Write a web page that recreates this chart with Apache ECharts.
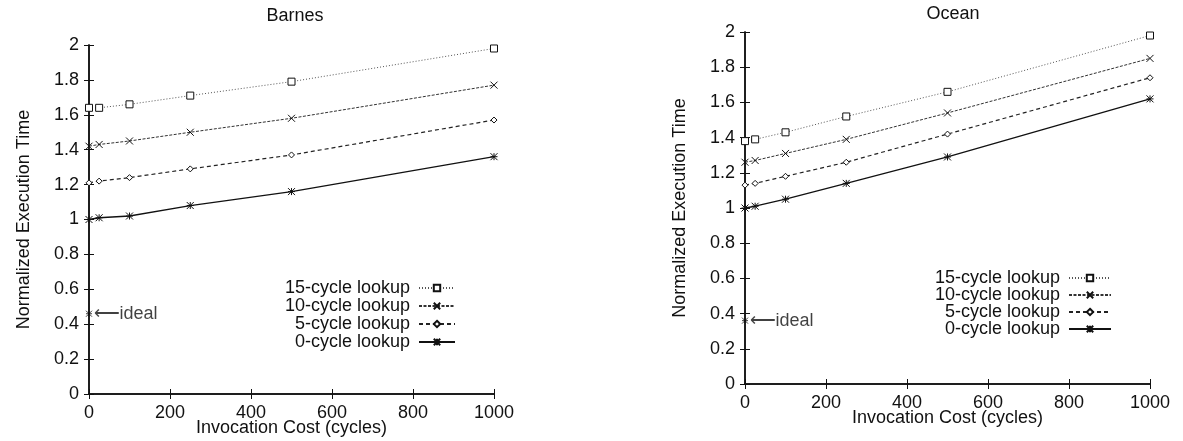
<!DOCTYPE html>
<html>
<head>
<meta charset="utf-8">
<script src="https://cdn.jsdelivr.net/npm/echarts@6/dist/echarts.min.js"></script>
<style>
  html, body { margin: 0; padding: 0; background: #fff; }
  #main { width: 1183px; height: 441px; }
</style>
</head>
<body>
<div id="main"></div>
<script>
// invocation cost on x, normalized execution time on y
var costs = [0, 25, 100, 250, 500, 1000];
var names = ['15-cycle lookup', '10-cycle lookup', '5-cycle lookup', '0-cycle lookup'];

var barnes15 = [1.64, 1.64, 1.66, 1.71, 1.79, 1.98];
var barnes10 = [1.42, 1.43, 1.45, 1.50, 1.58, 1.77];
var barnes5  = [1.21, 1.22, 1.24, 1.29, 1.37, 1.57];
var barnes0  = [1.00, 1.01, 1.02, 1.08, 1.16, 1.36];
var barnesIdeal = 0.46;

var ocean15 = [1.38, 1.39, 1.43, 1.52, 1.66, 1.98];
var ocean10 = [1.26, 1.27, 1.31, 1.39, 1.54, 1.85];
var ocean5  = [1.13, 1.14, 1.18, 1.26, 1.42, 1.74];
var ocean0  = [1.00, 1.01, 1.05, 1.14, 1.29, 1.62];
var oceanIdeal = 0.36;

var xMax = 1000, xStep = 200;
var yMax = 2, yStep = 0.2;

var FONT = '"Liberation Sans", Arial, sans-serif';
var INK = '#111';

// marker + line look per lookup latency
var styles = [
  { symbol: 'rect', size: 7, line: { type: [1, 2], width: 1, color: '#555' } },
  { symbol: 'path://M0,0L10,10M10,0L0,10', size: 7, line: { type: [3, 1.5], width: 1, color: '#333' } },
  { symbol: 'diamond', size: 6, line: { type: [4, 3], width: 1.2, color: '#222' } },
  { symbol: 'path://M0,0L10,10M10,0L0,10M5,0L5,10M0,5L10,5', size: 7, line: { type: 'solid', width: 1.3, color: INK } }
];

function pairs(vals) {
  return costs.map(function (c, i) { return [c, vals[i]]; });
}

function xAx(grid, pos) {
  var bottom = pos === 'bottom';
  return {
    type: 'value', gridIndex: grid, position: pos, min: 0, max: xMax, interval: xStep,
    name: bottom ? 'Invocation Cost (cycles)' : '', nameLocation: 'middle', nameGap: 25,
    nameMoveOverlap: false,
    nameTextStyle: { fontFamily: FONT, fontSize: 18, color: INK },
    axisLine: { show: true, lineStyle: { color: INK, width: 1.5 } },
    axisTick: { show: true, inside: true, length: 5, lineStyle: { color: INK } },
    axisLabel: { show: bottom, fontFamily: FONT, fontSize: 18, color: INK, margin: 10,
                 formatter: function (v) { return String(v); } },
    splitLine: { show: false }
  };
}

function yAx(grid, pos) {
  var left = pos === 'left';
  return {
    type: 'value', gridIndex: grid, position: pos, min: 0, max: yMax, interval: yStep,
    name: left ? 'Normalized Execution Time' : '', nameLocation: 'middle', nameGap: 56,
    nameTextStyle: { fontFamily: FONT, fontSize: 18, color: INK },
    axisLine: { show: true, lineStyle: { color: INK, width: 1.5 } },
    axisTick: { show: true, inside: true, length: 5, lineStyle: { color: INK } },
    axisLabel: { show: left, fontFamily: FONT, fontSize: 18, color: INK, margin: 10 },
    splitLine: { show: false }
  };
}

function lineSeries(grid, data) {
  return data.map(function (vals, k) {
    var s = styles[k];
    return {
      name: names[k], type: 'line', xAxisIndex: grid * 2, yAxisIndex: grid * 2,
      data: pairs(vals), symbol: s.symbol, symbolSize: s.size, showAllSymbol: true,
      lineStyle: s.line,
      itemStyle: { color: '#fff', borderColor: INK, borderWidth: 1 },
      emphasis: { disabled: true }, z: 3 + k
    };
  });
}

function idealSeries(grid, v) {
  return {
    name: 'ideal', type: 'scatter', xAxisIndex: grid * 2, yAxisIndex: grid * 2,
    data: [[0, v]], symbol: styles[3].symbol, symbolSize: 6,
    itemStyle: { color: '#fff', borderColor: INK, borderWidth: 1 },
    label: { show: true, position: 'right', distance: 1, formatter: '\u27F5ideal',
             fontFamily: FONT, fontSize: 18, color: INK },
    emphasis: { disabled: true }
  };
}

function legendAt(right, top, w, gap) {
  return {
    show: true, data: names, orient: 'vertical', align: 'right',
    right: right, top: top, itemWidth: w, itemHeight: 8, itemGap: gap,
    textStyle: { fontFamily: FONT, fontSize: 18, color: INK, padding: [0, 4, 0, 0] },
    selectedMode: false
  };
}

var chart = echarts.init(document.getElementById('main'), null, { renderer: 'canvas' });

var option = {
  backgroundColor: '#fff',
  animation: false,
  title: [
    { text: 'Barnes', left: 290, top: 2, textAlign: 'center',
      textStyle: { fontFamily: FONT, fontSize: 18, fontWeight: 'normal', color: INK } },
    { text: 'Ocean', left: 948, top: 0, textAlign: 'center',
      textStyle: { fontFamily: FONT, fontSize: 18, fontWeight: 'normal', color: INK } }
  ],
  grid: [
    { left: 89, top: 45, width: 405, height: 349, outerBoundsMode: 'none' },
    { left: 745, top: 32, width: 405, height: 352, outerBoundsMode: 'none' }
  ],
  xAxis: [xAx(0, 'bottom'), xAx(0, 'top'), xAx(1, 'bottom'), xAx(1, 'top')],
  yAxis: [yAx(0, 'left'), yAx(0, 'right'), yAx(1, 'left'), yAx(1, 'right')],
  legend: [
    legendAt(1183 - 461, 274, 36, 0),
    legendAt(1183 - 1117, 264, 42, -1)
  ],
  series: []
    .concat(lineSeries(0, [barnes15, barnes10, barnes5, barnes0]))
    .concat([idealSeries(0, barnesIdeal)])
    .concat(lineSeries(1, [ocean15, ocean10, ocean5, ocean0]))
    .concat([idealSeries(1, oceanIdeal)])
};

chart.setOption(option);
</script>
</body>
</html>
